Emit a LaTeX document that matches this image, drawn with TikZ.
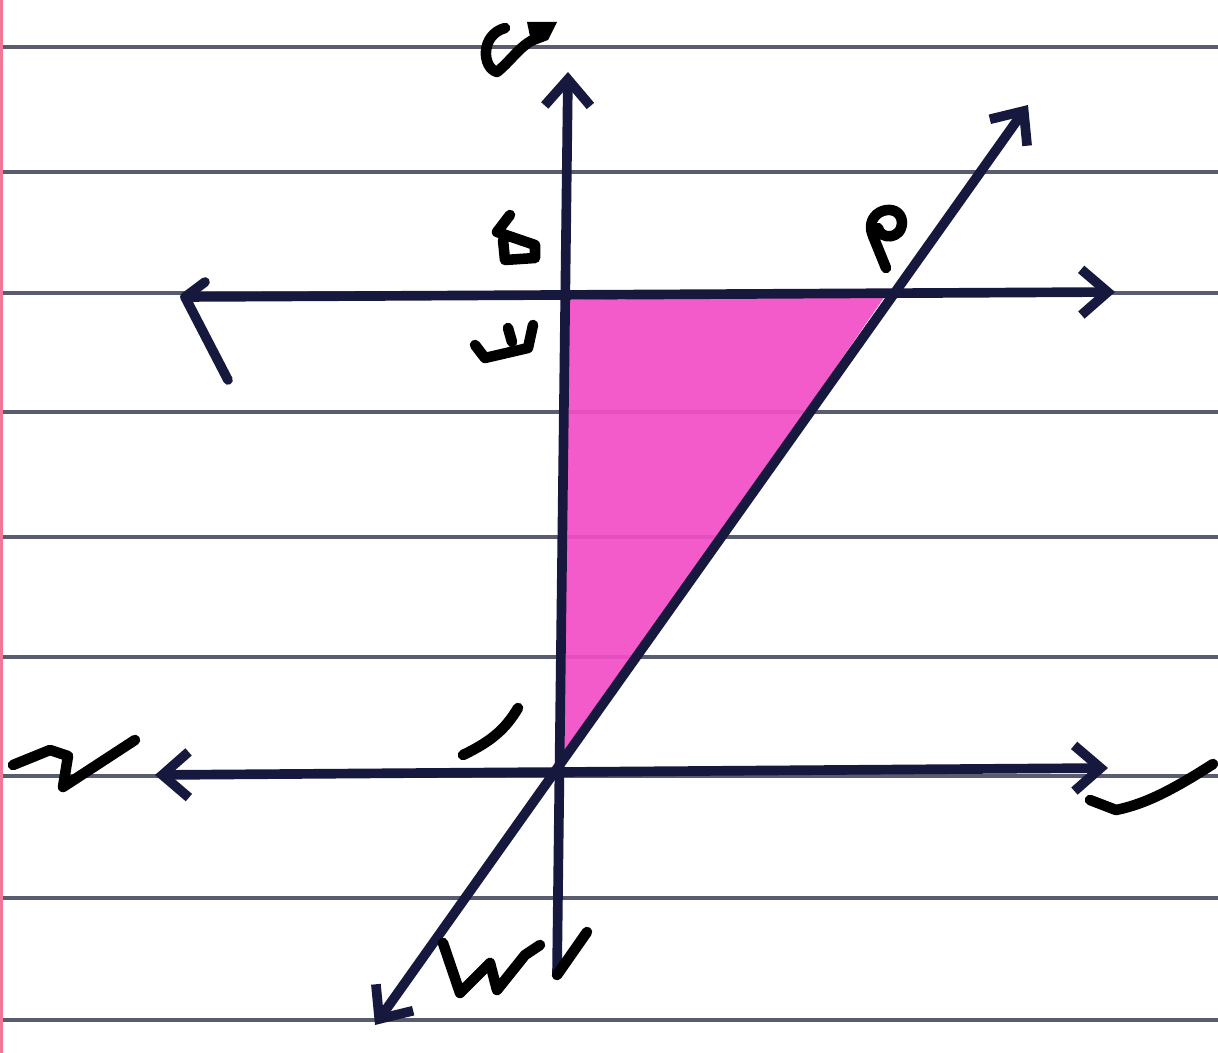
\documentclass[tikz,border=0pt]{standalone}
\usetikzlibrary{arrows.meta}
\definecolor{inkblue}{RGB}{22,24,62}
\definecolor{ruleline}{RGB}{88,92,110}
\definecolor{marginred}{RGB}{240,120,150}
\definecolor{shadepink}{RGB}{244,78,198}

\begin{document}
\begin{tikzpicture}[x=0.02cm, y=-0.02cm, >={Straight Barb[length=15pt,width=26pt]},
  ruled/.style={ruleline, line width=2.2pt},
  axis/.style={inkblue, line width=5.5pt, line cap=round, line join=round},
  scrawl/.style={black, line width=6pt, line cap=round, line join=round}]
 \fill[white] (0,0) rectangle (1218,1053);
 \useasboundingbox (0,0) rectangle (1218,1053);
 % ruled paper
 \foreach \y in {47,172,293,412,537,657,776,898,1020}
   \draw[ruled] (0,\y) -- (1218,\y);
 \draw[marginred, line width=1.5pt] (1.5,0) -- (1.5,1053);
 % end points
 \coordinate (ytop) at (568,72);
 \coordinate (ybot) at (557,975);
 \coordinate (tl) at (185,297);
 \coordinate (tr) at (1115,292);
 \coordinate (bl) at (155,775);
 \coordinate (br) at (1108,768);
 \coordinate (dtop) at (1028,105);
 \coordinate (dbot) at (375,1025);
 \coordinate (Q) at (566,300);
 \coordinate (P) at (885,296);
 \coordinate (O) at (557,772);
 % shaded region
 \fill[shadepink, opacity=0.92] (Q) -- (P) -- (O) -- cycle;
 % lines
 \draw[axis,->] (ybot) -- (ytop);
 \draw[axis,->] (tl) -- (tr);
 \draw[axis] (205,282) -- (tl) -- (228,380);
 \draw[axis,<->] (bl) -- (br);
 \draw[axis,<->] (dbot) -- (dtop);
 % handwritten marks
 \draw[scrawl] (505,28) .. controls (480,35) and (482,68) .. (497,72) .. controls (512,60) and (520,45) .. (537,38);
 \fill (527,22) -- (557,22) -- (548,40) -- (532,46) -- cycle;
 \draw[scrawl] (510,215) -- (497,232) -- (535,245) -- (535,258) -- (505,260) -- (503,240);
 \draw[scrawl] (475,345) -- (485,358) -- (528,348) -- (533,325);
 \draw[scrawl] (508,328) -- (512,342);
 \draw[scrawl] (886,268) -- (873,236) .. controls (862,210) and (900,200) .. (902,222) .. controls (902,240) and (880,240) .. (878,228);
 \draw[scrawl] (463,755) .. controls (490,742) and (505,730) .. (518,708);
 \draw[scrawl] (13,765) -- (50,750) -- (68,756) -- (63,787) -- (135,740);
 \draw[scrawl] (1090,800) -- (1116,810) .. controls (1140,805) and (1165,795) .. (1213,764);
 \draw[scrawl] (443,943) -- (460,993) -- (490,963) -- (497,990) -- (525,955) -- (540,945);
 \draw[scrawl] (ybot) -- (587,932);
\end{tikzpicture}
\end{document}
